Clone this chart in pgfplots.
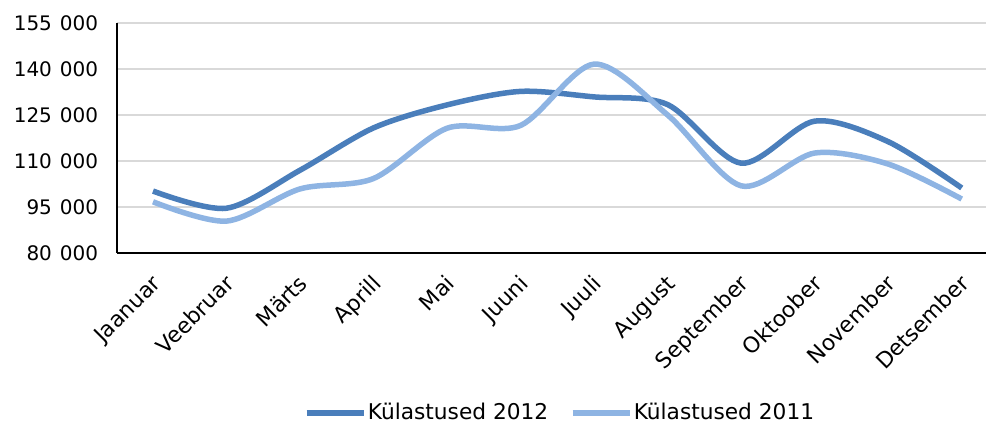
\documentclass[border=0pt]{standalone}
\usepackage{pgfplots}
\pgfplotsset{compat=1.18}
\usepackage{fontspec}
\setmainfont{DejaVu Sans}
\definecolor{dark}{HTML}{4A7EBB}
\definecolor{light}{HTML}{8EB4E3}
\definecolor{gridc}{HTML}{D9D9D9}
\newcommand{\ts}{\hspace{0.4em}}
\begin{document}
\fontsize{20}{24}\selectfont
\begin{tikzpicture}
\useasboundingbox (-117pt,-172pt) rectangle (869pt,253pt);
\begin{axis}[
  at={(0,0)}, anchor=south west,
  scale only axis, width=869pt, height=230pt,
  xmin=-0.49, xmax=11.33,
  ymin=80000, ymax=155000,
  ytick={80000,95000,110000,125000,140000,155000},
  yticklabels={80\ts000,95\ts000,110\ts000,125\ts000,140\ts000,155\ts000},
  scaled y ticks=false,
  axis x line*=bottom, axis y line*=left,
  axis line style={black, line width=1.5pt, -},
  major tick length=0pt,
  ymajorgrids, grid style={gridc, line width=1.5pt},
  xtick={0,...,11},
  xticklabels={Jaanuar,Veebruar,Märts,Aprill,Mai,Juuni,Juuli,August,September,Oktoober,November,Detsember},
  xticklabel style={xshift=9pt, yshift=-32pt, rotate=45, anchor=base east, inner sep=0pt, font=\fontsize{21.8}{26}\selectfont},
  yticklabel style={font=\fontsize{20}{24}\selectfont, xshift=-12pt},
  legend columns=2,
  legend style={at={(0.5095,-0.696)}, anchor=center, draw=none, fill=none,
    font=\fontsize{21.7}{26}\selectfont, nodes={inner sep=1.5pt}, column sep=0pt,
    /tikz/every even column/.append style={column sep=20pt}},
  legend image code/.code={\draw[#1, line width=5.5pt] (0pt,0pt) -- (57pt,0pt);},
]
\addplot[dark, line width=5.5pt, smooth, tension=0.5] coordinates {
(0,100200) (1,94600) (2,107000) (3,120800) (4,128300) (5,132700) (6,130900) (7,128400) (8,109300) (9,123000) (10,116300) (11,101200)};
\addlegendentry{Külastused 2012}
\addplot[light, line width=5.5pt, smooth, tension=0.5] coordinates {
(0,96700) (1,90400) (2,100900) (3,104300) (4,120700) (5,121600) (6,141600) (7,125000) (8,101900) (9,112600) (10,109000) (11,97600)};
\addlegendentry{Külastused 2011}
\end{axis}
\end{tikzpicture}
\end{document}
